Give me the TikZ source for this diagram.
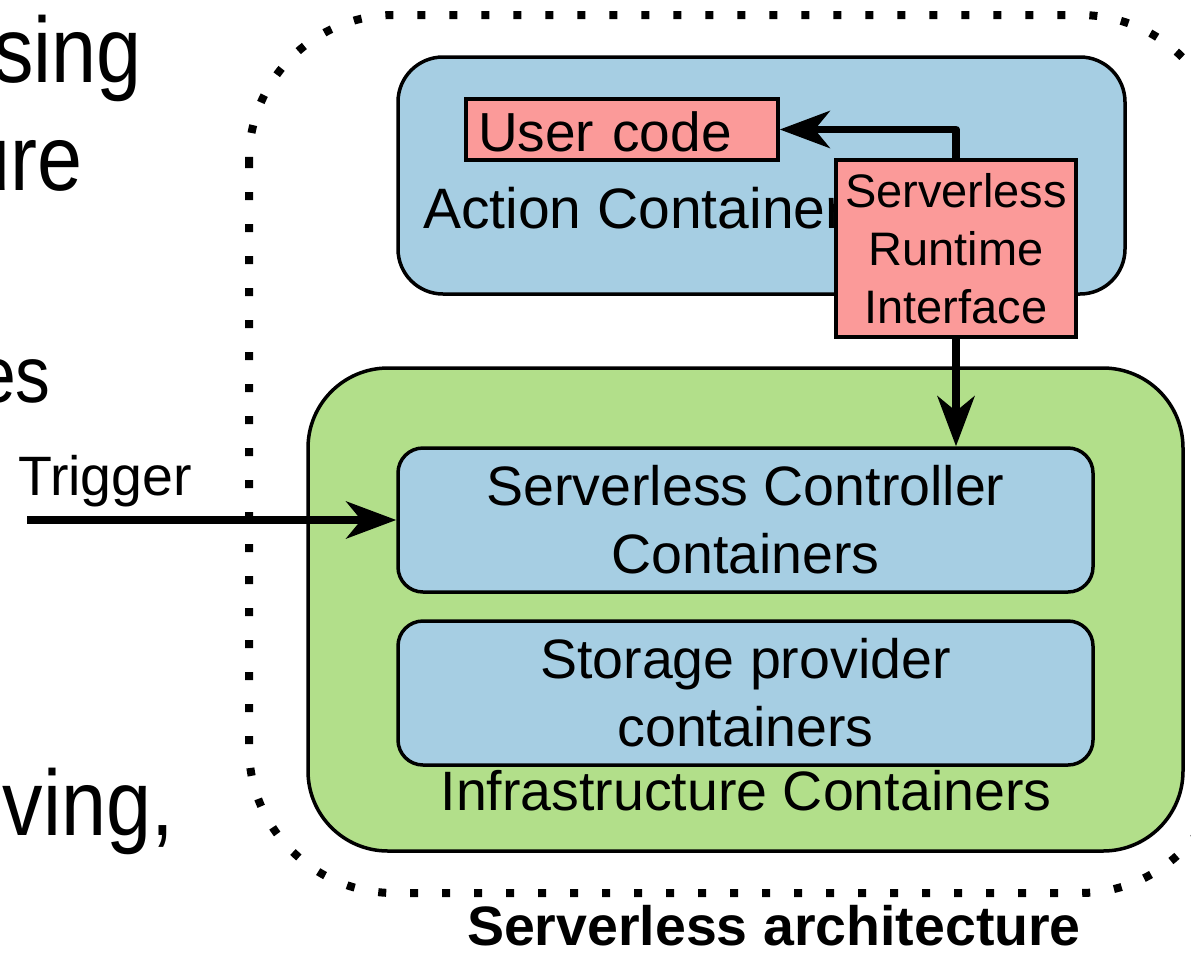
\documentclass[tikz,border=0pt]{standalone}
\usepackage{fontspec}
\setmainfont{Liberation Sans}
\usepackage{tikz}
\usetikzlibrary{arrows.meta}

\definecolor{actblue}{HTML}{A6CEE3}
\definecolor{infragreen}{HTML}{B2DF8A}
\definecolor{ifacepink}{HTML}{FB9A99}

\newcommand{\bigtext}{\fontsize{93}{110}\selectfont}
\newcommand{\midtext}{\fontsize{55.5}{68}\selectfont}
\newcommand{\slidetext}[1]{\scalebox{0.87}[1]{#1}}

\begin{document}
\begin{tikzpicture}[x=1pt,y=-1pt,
  box/.style={draw,line width=3.5pt,inner sep=0pt},
  roundbox/.style={box,rounded corners=#1},
  dotframe/.style={line width=8pt,dash pattern=on 8pt off 24pt},
  flow/.style={line width=7.5pt,line join=round,-{Stealth[length=50pt,width=37pt,inset=15pt]}},
  plain/.style={inner sep=0pt,font=\midtext}]

\useasboundingbox (0,0) rectangle (1191,962);
\clip (0,0) rectangle (1191,962);

\node[inner sep=0pt,font=\bigtext,anchor=base east] (line1) at (142,82) {\slidetext{sing}};		% Folientext links
\node[inner sep=0pt,font=\bigtext,anchor=base east] (line2) at (83,190) {\slidetext{ure}};
\node[inner sep=0pt,font=\fontsize{80}{96}\selectfont,anchor=base east] (line3) at (51,402) {\slidetext{es}};
\node[inner sep=0pt,font=\bigtext,anchor=base east] (line4) at (174,835) {\slidetext{ving,}};

\draw[dotframe] (249,15) [rounded corners=145pt] rectangle (1225,893);	% Rahmen Architektur

\node[roundbox=80pt,fill=infragreen,minimum width=875pt,minimum height=483pt] (infra) at (745.5,609.5) {};	% Infrastruktur
\node[roundbox=25pt,fill=actblue,minimum width=695pt,minimum height=144pt,align=center,font=\midtext] (ctrl) at (745.5,520) {Serverless Controller\\Containers};
\node[roundbox=25pt,fill=actblue,minimum width=695pt,minimum height=144pt,align=center,font=\midtext] (store) at (745.5,693) {Storage provider\\containers};
\node[plain,anchor=base] (infralbl) at (746,810) {Infrastructure Containers};

\node[roundbox=45pt,fill=actblue,minimum width=727pt,minimum height=237pt] (action) at (761.5,175.5) {};	% Action Container
\node[box,fill=ifacepink,minimum width=312pt,minimum height=61pt,text width=288pt,inner xsep=12pt,text height=43pt,text depth=0pt,font=\fontsize{55}{66}\selectfont] (user) at (622,129.5) {User code};
\node[plain,anchor=base west,font=\fontsize{57}{68}\selectfont] (actlbl) at (423,228) {Action Containers};
\node[box,fill=ifacepink,minimum width=240pt,minimum height=177pt,align=center,font=\fontsize{47}{58}\selectfont] (sri) at (956,248.5) {Serverless\\Runtime\\Interface};	% Runtime Interface

\draw[flow] (sri.north) |- (user.east);				% zum User code
\draw[flow] (sri.south) -- (sri.south |- ctrl.north);	% zum Controller

\coordinate (trig) at (27,520);
\draw[flow] (trig) -- (ctrl.west);						% Trigger von aussen
\node[plain,anchor=base west] (triglbl) at (18,495) {Trigger};

\node[plain,anchor=base,font=\midtext\bfseries] (archlbl) at (774,945) {Serverless architecture};

\end{tikzpicture}
\end{document}
